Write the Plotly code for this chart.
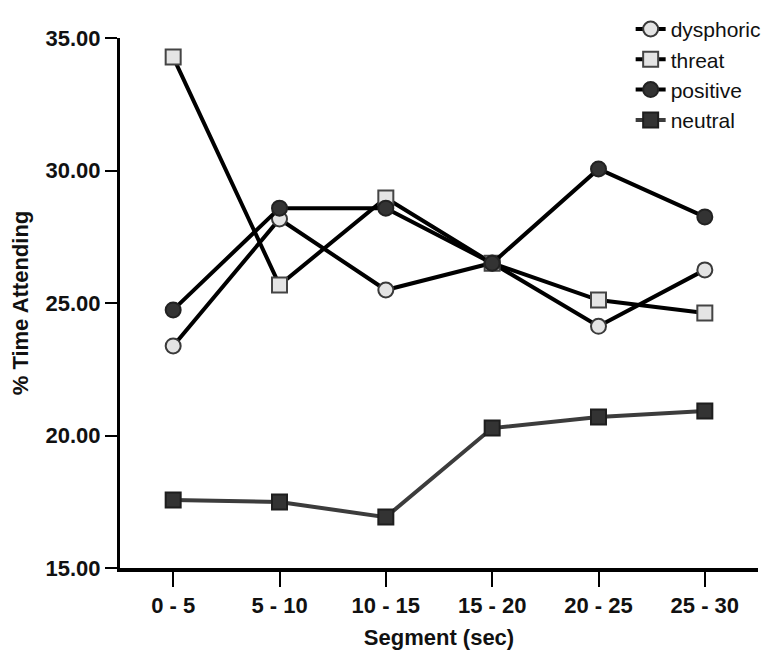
import plotly.graph_objects as go

segments = ["0 - 5", "5 - 10", "10 - 15", "15 - 20", "20 - 25", "25 - 30"]
dysphoric = [23.38, 28.17, 25.49, 26.51, 24.12, 26.25]
threat = [34.28, 25.68, 28.96, 26.50, 25.11, 24.62]
positive = [24.74, 28.58, 28.58, 26.50, 30.06, 28.25]
neutral = [17.57, 17.49, 16.92, 20.28, 20.70, 20.92]
y_ticks = [15, 20, 25, 30, 35]
y_ticklabels = ["15.00", "20.00", "25.00", "30.00", "35.00"]

fig = go.Figure()

series = [
    ("dysphoric", dysphoric, "#000000", "circle", "#e4e4e4", "#3a3a3a"),
    ("threat", threat, "#000000", "square", "#e4e4e4", "#444444"),
    ("positive", positive, "#000000", "circle", "#333333", "#222222"),
    ("neutral", neutral, "#3c3c3c", "square", "#333333", "#1e1e1e"),
]
for name, vals, lc, sym, fill, edge in series:
    fig.add_trace(go.Scatter(
        x=segments, y=vals, name=name, mode="lines+markers",
        line=dict(color=lc, width=4),
        marker=dict(symbol=sym, size=15, color=fill,
                    line=dict(color=edge, width=2)),
    ))

fig.update_layout(
    width=770, height=659,
    margin=dict(l=112, r=20, t=30, b=99, autoexpand=False),
    plot_bgcolor="white", paper_bgcolor="white",
    font=dict(family="Liberation Sans, Arial, sans-serif", color="#111111"),
    showlegend=True,
    legend=dict(
        x=1.012, y=1.055, xanchor="right", yanchor="top",
        font=dict(size=21, color="#111111"),
        bgcolor="rgba(0,0,0,0)", tracegroupgap=0,
    ),
)

fig.update_xaxes(
    type="category", range=[-0.5, 5.5], automargin=False,
    showline=True, linecolor="black", linewidth=4,
    ticks="outside", ticklen=15, tickwidth=2, tickcolor="black",
    tickfont=dict(size=22, weight="bold", color="#111111"),
    showgrid=False, zeroline=False,
    title=dict(text="Segment (sec)", font=dict(size=22, weight="bold", color="#111111"),
               standoff=13),
)
fig.update_yaxes(
    range=[15, 35], automargin=False,
    tickvals=y_ticks, ticktext=y_ticklabels,
    showline=True, linecolor="black", linewidth=3,
    ticks="outside", ticklen=12, tickwidth=2, tickcolor="black",
    tickfont=dict(size=22, weight="bold", color="#111111"),
    showgrid=False, zeroline=False,
    title=dict(text="% Time Attending", font=dict(size=22, weight="bold", color="#111111"),
               standoff=14),
)

fig.write_html("out.html")
